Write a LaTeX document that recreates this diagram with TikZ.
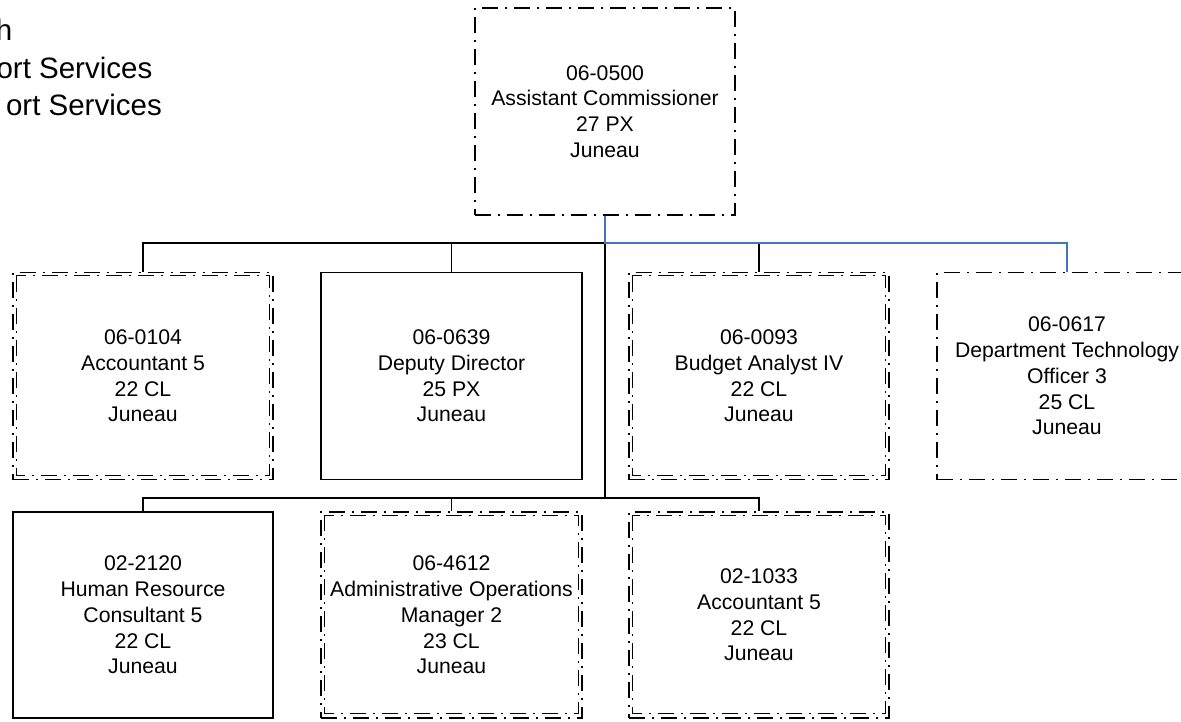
\documentclass[tikz,border=0pt]{standalone}
\usepackage{fontspec}
\setmainfont{Liberation Sans}
\begin{document}
\begin{tikzpicture}[x=1pt,y=-1pt,
  box/.style={draw=black, line width=1.3pt, minimum width=260pt, minimum height=207pt,
    inner sep=0pt, align=center, font=\fontsize{21.2}{25.7}\selectfont},
  dashdot/.style={dash pattern=on 16pt off 7pt on 2pt off 7pt},
  ddbox/.style={box, dashdot},
  inner/.style={draw=black, line width=1.1pt, dashdot},
  conn/.style={draw=black, line width=1.3pt},
  blueconn/.style={draw={rgb,255:red,68;green,114;blue,196}, line width=1.3pt},
  title/.style={anchor=base east, inner sep=0pt, font=\fontsize{29.5}{37.5}\selectfont}]
\useasboundingbox (0,0) rectangle (1181,721);
\begin{scope}
\clip (0,0) rectangle (1181,721);

% title fragments
\node[title] (t1) at (12.5,40) {h};
\node[title] (t2) at (152.5,78) {ort Services};
\node[title] (t3) at (162,115) {ort Services};

% boxes
\node[ddbox, minimum width=260pt] (ac) at (605,111.5) {06-0500\\Assistant Commissioner\\27 PX\\Juneau};

\node[ddbox] (a1) at (143,376) {06-0104\\Accountant 5\\22 CL\\Juneau};
\node[box, minimum width=261pt] (dd) at (451.5,376) {06-0639\\Deputy Director\\25 PX\\Juneau};
\node[ddbox] (ba) at (759,376) {06-0093\\Budget Analyst IV\\22 CL\\Juneau};
\node[ddbox] (dto) at (1067,376) {06-0617\\Department Technology\\Officer 3\\25 CL\\Juneau};

\node[box, minimum height=206pt] (hr) at (143,615) {02-2120\\Human Resource\\Consultant 5\\22 CL\\Juneau};
\node[ddbox, minimum width=261pt, minimum height=206pt] (ao) at (451.5,615) {06-4612\\Administrative Operations\\Manager 2\\23 CL\\Juneau};
\node[ddbox, minimum height=206pt] (a2) at (759,615) {02-1033\\Accountant 5\\22 CL\\Juneau};

% inner outlines of the double boxes
\foreach \n in {a1,ba,ao,a2}{
  \draw[inner] ([shift={(4,4)}]\n.north west) rectangle ([shift={(-4,-5)}]\n.south east);
}

% connectors
\coordinate (j1) at (605,243);
\coordinate (j2) at (605,498);
\draw[conn] (a1.north) |- (j1);
\draw[conn] (dd.north) -- (dd.north |- j1);
\draw[conn] (ba.north) -- (ba.north |- j1);
\draw[conn] (j1) -- (j2);
\draw[conn] (hr.north) |- (j2);
\draw[conn] (ao.north) -- (ao.north |- j2);
\draw[conn] (a2.north) |- (j2);
\draw[blueconn] (ac.south) -- (j1) -| (dto.north);
\end{scope}
\end{tikzpicture}
\end{document}
